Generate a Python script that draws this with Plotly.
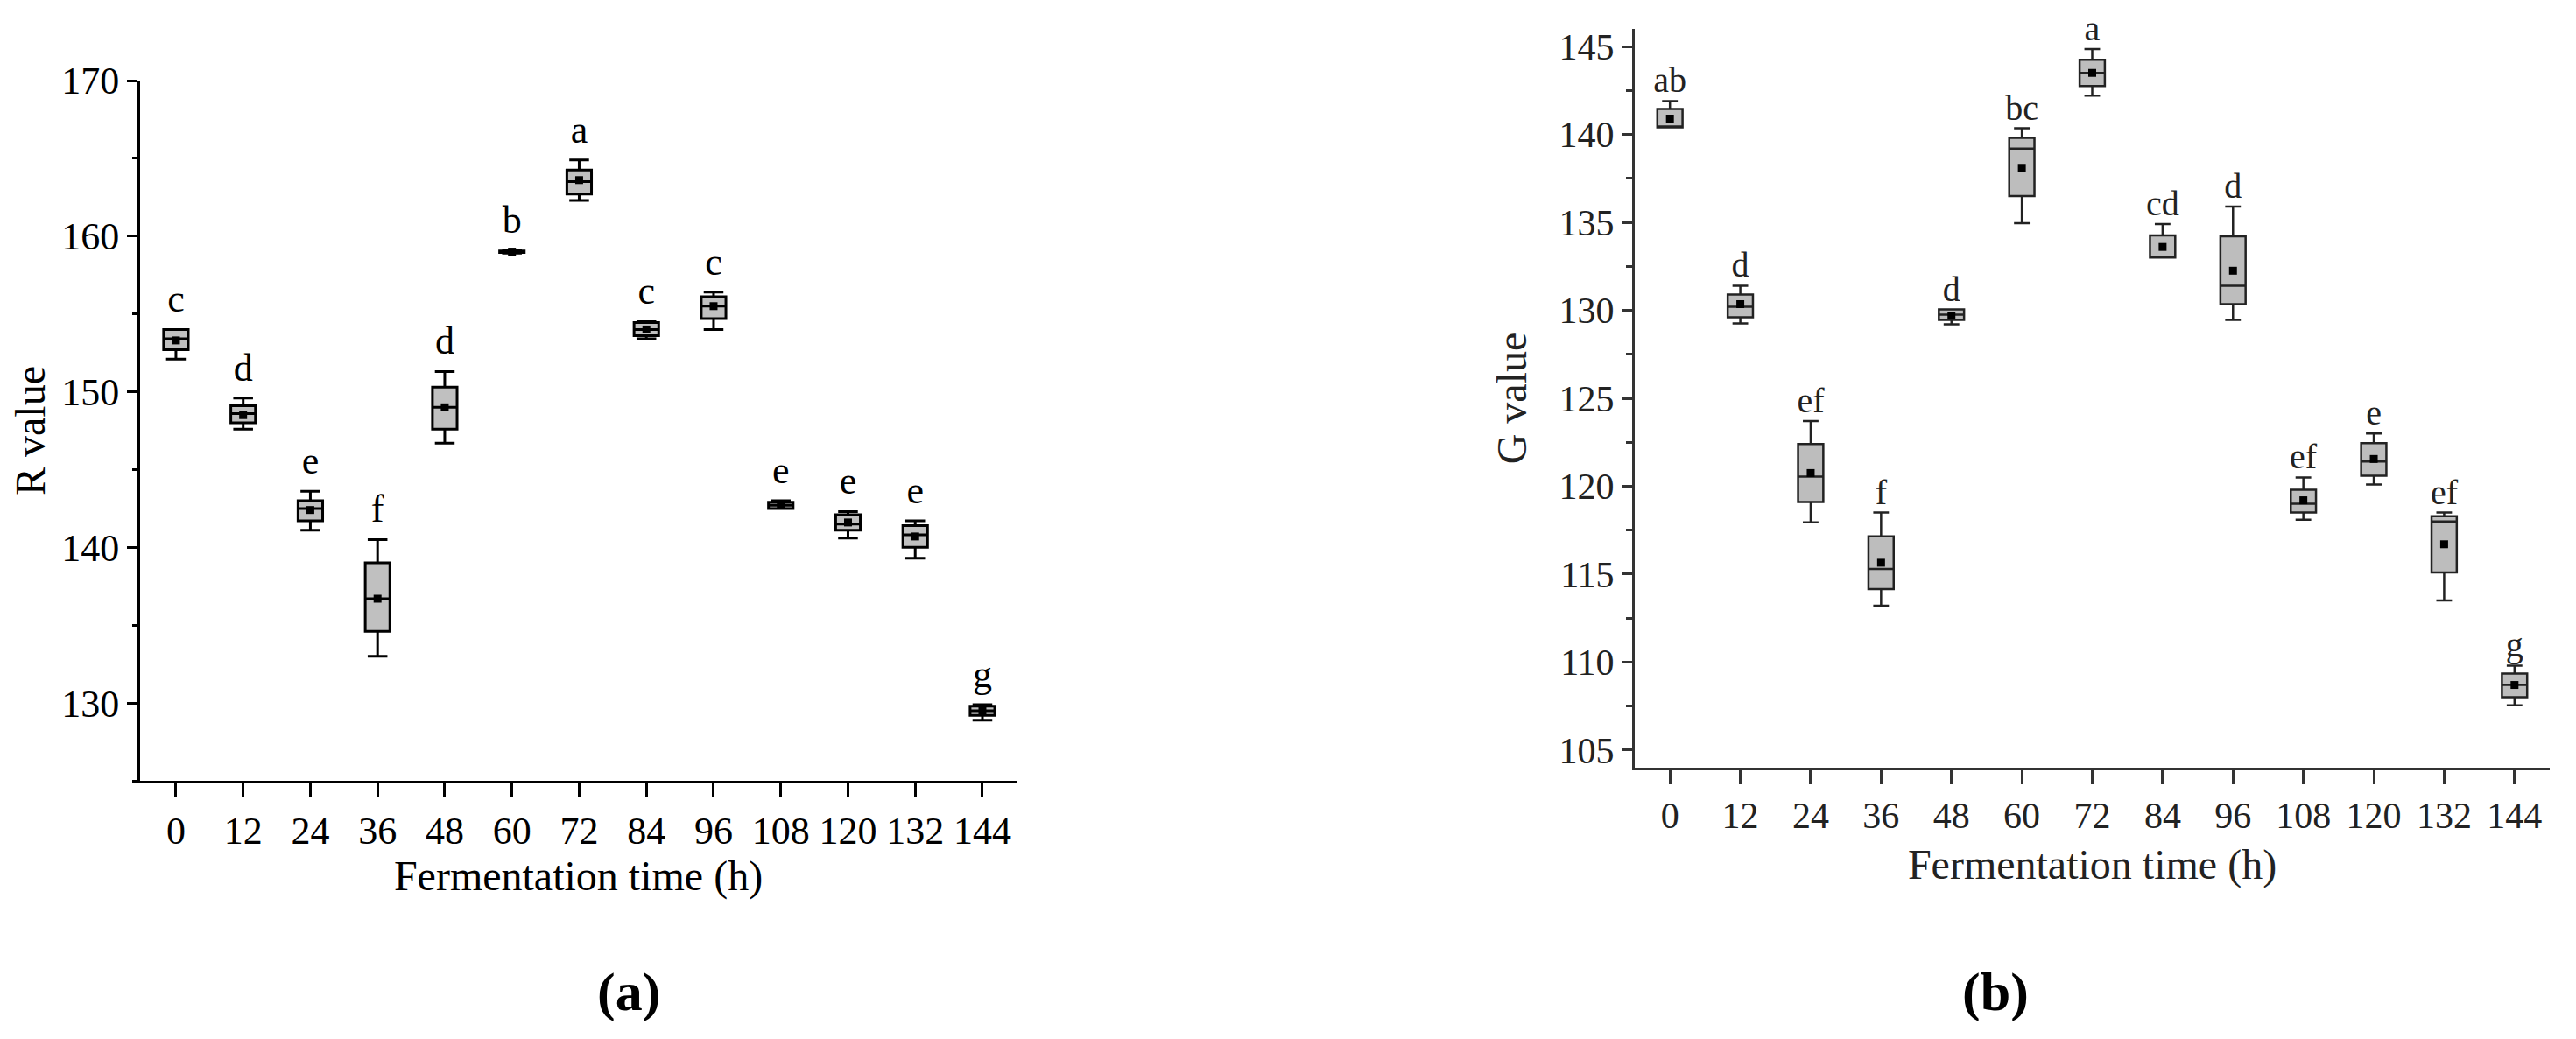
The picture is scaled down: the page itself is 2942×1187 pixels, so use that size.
import plotly.graph_objects as go

# fermentation time (h)
time_h = [0, 12, 24, 36, 48, 60, 72, 84, 96, 108, 120, 132, 144]

# (a) R value box statistics
r_upper = [154.0, 149.6, 143.6, 140.5, 151.3, 159.1, 164.9, 154.5, 156.4, 143.0, 142.3, 141.7, 129.9]
r_q3 = [154.0, 149.1, 143.0, 139.0, 150.3, 159.05, 164.25, 154.45, 156.1, 142.9, 142.1, 141.4, 129.8]
r_median = [153.4, 148.6, 142.5, 136.7, 149.0, 159.0, 163.5, 154.0, 155.5, 142.7, 141.5, 140.8, 129.5]
r_q1 = [152.7, 148.0, 141.7, 134.6, 147.6, 158.95, 162.7, 153.6, 154.7, 142.5, 141.1, 140.0, 129.2]
r_lower = [152.1, 147.6, 141.1, 133.0, 146.7, 158.9, 162.3, 153.4, 154.0, 142.5, 140.6, 139.3, 128.9]
r_mean = [153.3, 148.5, 142.4, 136.7, 149.0, 159.0, 163.6, 154.0, 155.5, 142.7, 141.6, 140.7, 129.5]
r_letters = ["c", "d", "e", "f", "d", "b", "a", "c", "c", "e", "e", "e", "g"]

# (b) G value box statistics
g_upper = [141.9, 131.4, 123.7, 118.5, 130.05, 140.35, 144.85, 134.9, 135.9, 120.5, 123.0, 118.5, 109.8]
g_q3 = [141.45, 130.9, 122.4, 117.15, 130.05, 139.8, 144.25, 134.25, 134.2, 119.8, 122.45, 118.3, 109.35]
g_median = [140.45, 130.2, 120.55, 115.3, 129.75, 139.2, 143.5, 133.0, 131.4, 119.0, 121.4, 118.0, 108.7]
g_q1 = [140.4, 129.6, 119.1, 114.15, 129.45, 136.5, 142.75, 133.0, 130.35, 118.5, 120.6, 115.1, 108.0]
g_lower = [140.4, 129.25, 117.95, 113.2, 129.2, 134.95, 142.2, 133.0, 129.45, 118.1, 120.1, 113.5, 107.55]
g_mean = [140.9, 130.35, 120.75, 115.65, 129.7, 138.1, 143.5, 133.6, 132.25, 119.2, 121.55, 116.7, 108.7]
g_letters = ["ab", "d", "ef", "f", "d", "bc", "a", "cd", "d", "ef", "e", "ef", "g"]

FONT = "Liberation Serif"

# page body has an 8px margin, so the figure is a bit smaller than the window
W, H, PAD = 2926, 1171, 8


def px_x(p):
    return (p - PAD) / W


def px_y(p):
    return 1 - (p - PAD) / H


fig = go.Figure()

# panel (a)
fig.add_trace(go.Box(
    x=time_h, q1=r_q1, median=r_median, q3=r_q3,
    lowerfence=r_lower, upperfence=r_upper,
    width=4.4, whiskerwidth=0.8, boxpoints=False,
    fillcolor="#c0c0c0", line=dict(color="black", width=3),
    xaxis="x", yaxis="y", showlegend=False,
))
fig.add_trace(go.Scatter(
    x=time_h, y=r_mean, mode="markers",
    marker=dict(symbol="square", size=9, color="black"),
    xaxis="x", yaxis="y", showlegend=False,
))
# letters above the whiskers (invisible marker sets the gap)
fig.add_trace(go.Scatter(
    x=time_h, y=r_upper, mode="markers+text", text=r_letters,
    textposition="top center", cliponaxis=False,
    marker=dict(size=13, color="rgba(0,0,0,0)"),
    textfont=dict(family=FONT, size=44, color="black"),
    xaxis="x", yaxis="y", showlegend=False,
))

# panel (b)
fig.add_trace(go.Box(
    x=time_h, q1=g_q1, median=g_median, q3=g_q3,
    lowerfence=g_lower, upperfence=g_upper,
    width=4.3, whiskerwidth=0.62, boxpoints=False,
    fillcolor="#bdbdbd", line=dict(color="#222222", width=2.5),
    xaxis="x2", yaxis="y2", showlegend=False,
))
fig.add_trace(go.Scatter(
    x=time_h, y=g_mean, mode="markers",
    marker=dict(symbol="square", size=9, color="black"),
    xaxis="x2", yaxis="y2", showlegend=False,
))
fig.add_trace(go.Scatter(
    x=time_h, y=g_upper, mode="text", text=g_letters,
    textposition="top center", cliponaxis=False,
    textfont=dict(family=FONT, size=40, color="#222222"),
    xaxis="x2", yaxis="y2", showlegend=False,
))

annotations = [
    dict(x=px_x(680), y=px_y(1133), xref="paper", yref="paper", text="<b>(a)</b>",
         showarrow=False, yanchor="middle", font=dict(family=FONT, size=62, color="black")),
    dict(x=px_x(2319), y=px_y(1133), xref="paper", yref="paper", text="<b>(b)</b>",
         showarrow=False, yanchor="middle", font=dict(family=FONT, size=62, color="black")),
]

x_common = dict(
    tickmode="array", tickvals=time_h,
    ticks="outside", ticklen=16, showgrid=False, zeroline=False,
    showline=True, mirror=False, automargin=False,
)

fig.update_layout(
    width=W, height=H,
    margin=dict(l=0, r=0, t=0, b=0, autoexpand=False),
    paper_bgcolor="white", plot_bgcolor="white",
    font=dict(family=FONT, color="black"),
    xaxis=dict(
        x_common, domain=[px_x(160), px_x(1161)], anchor="y", range=[-6.4, 150.1],
        linecolor="black", linewidth=3, tickwidth=3, tickcolor="black",
        tickfont=dict(size=44, color="black"),
        title=dict(text="Fermentation time (h)", font=dict(size=48), standoff=8),
    ),
    yaxis=dict(
        domain=[px_y(892), px_y(92)], anchor="x",
        range=[125, 170], tick0=130, dtick=10,
        ticks="outside", ticklen=12, tickwidth=3, tickcolor="black",
        minor=dict(dtick=5, tick0=125, ticks="outside", ticklen=6, tickwidth=3, tickcolor="black"),
        showline=True, linecolor="black", linewidth=3,
        showgrid=False, zeroline=False, automargin=False,
        tickfont=dict(size=44, color="black"),
        title=dict(text="R value", font=dict(size=48), standoff=12),
    ),
    xaxis2=dict(
        x_common, domain=[px_x(1867), px_x(2912)], anchor="y2", range=[-6, 150],
        linecolor="#333333", linewidth=3, tickwidth=3, tickcolor="#333333",
        tickfont=dict(size=42, color="#222222"),
        title=dict(text="Fermentation time (h)", font=dict(size=48, color="#222222"), standoff=16),
    ),
    yaxis2=dict(
        domain=[px_y(877), px_y(33)], anchor="x2",
        range=[104, 146], tick0=105, dtick=5,
        ticks="outside", ticklen=12, tickwidth=3, tickcolor="#333333",
        minor=dict(dtick=2.5, tick0=105, ticks="outside", ticklen=7, tickwidth=3, tickcolor="#333333"),
        showline=True, linecolor="#333333", linewidth=3,
        showgrid=False, zeroline=False, automargin=False,
        tickfont=dict(size=42, color="#222222"),
        title=dict(text="G value", font=dict(size=48, color="#222222"), standoff=22),
    ),
    annotations=annotations,
)

fig.write_html("out.html")
